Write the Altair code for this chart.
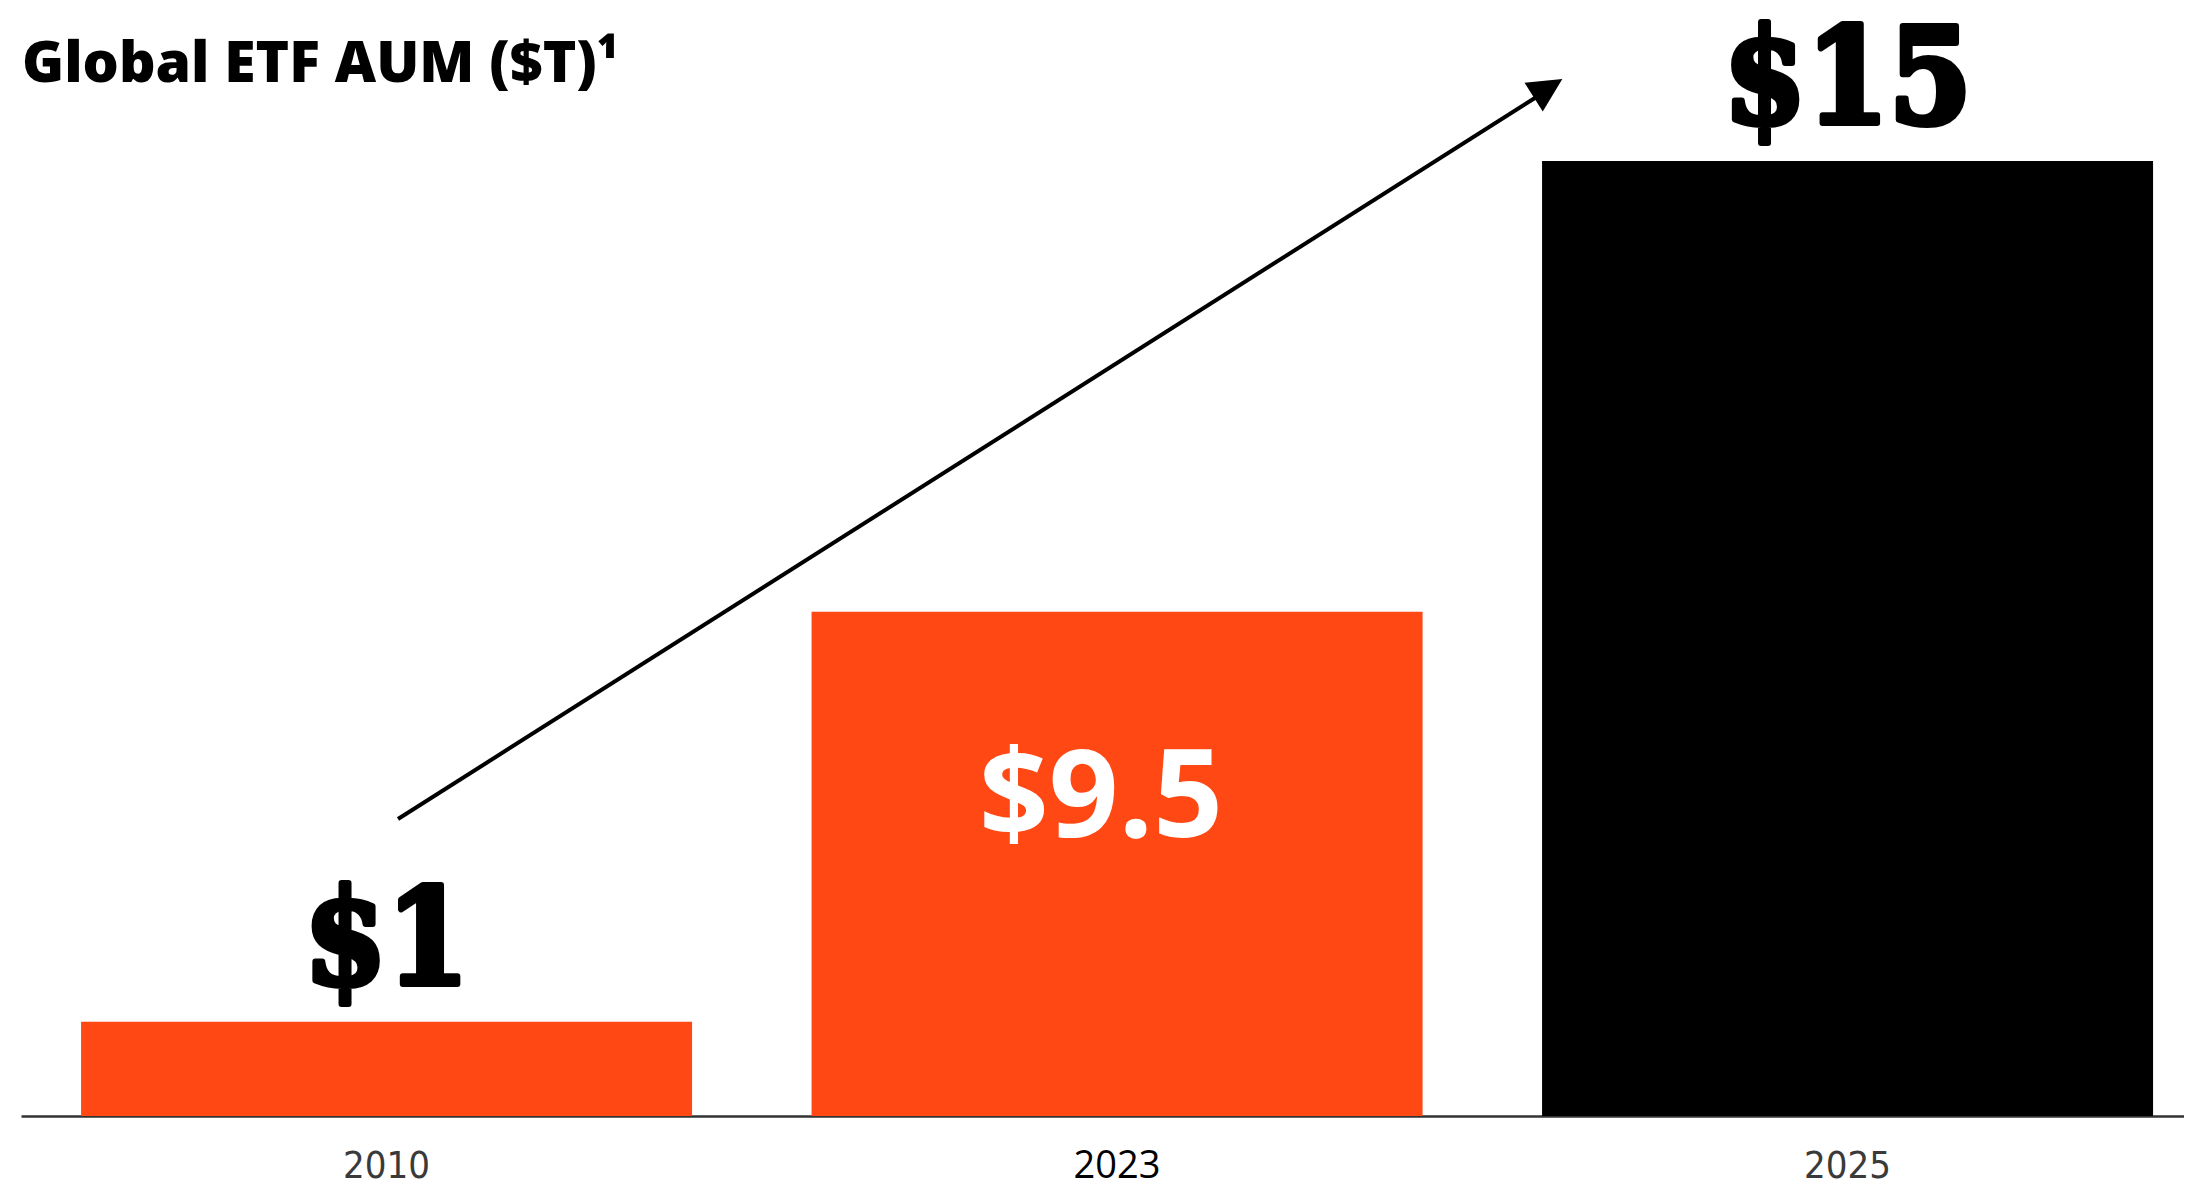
import altair as alt
import pandas as pd

# ---- data ----
years = ["2010", "2023", "2025"]
aum_labels = ["$1", "$9.5", "$15"]
aum_values = [1, 9.5, 15]              # $T, as labelled
bar_heights = [1.48, 7.92, 15]         # drawn bar heights (chart is not to scale)
label_inside = [False, True, False]

title_text = "Global ETF AUM ($T)\u00b9"

ORANGE = "#FF4814"
BLACK = "#000000"

df = pd.DataFrame({
    "year": years,
    "label": aum_labels,
    "value": aum_values,
    "height": bar_heights,
    "inside": label_inside,
})

W, H = 2163, 955

x = alt.X(
    "year:N",
    sort=years,
    scale=alt.Scale(paddingInner=0.1636, paddingOuter=0.0623, align=0.66),
    axis=alt.Axis(
        title=None,
        ticks=False,
        tickSize=0,
        domainColor="#333333",
        domainWidth=2.5,
        labelAngle=0,
        labelFontSize=38,
        labelPadding=31,
        labelBaseline="top",
        labelFont={"condition": {"test": "datum.value === '2023'", "value": "Open Sans"},
                   "value": "DejaVu Sans Condensed"},
        labelColor={"condition": {"test": "datum.value === '2023'", "value": "#000000"},
                    "value": "#3a3a3a"},
        labelFontWeight={"condition": {"test": "datum.value === '2023'", "value": "normal"},
                         "value": 300},
    ),
)
y = alt.Y("height:Q", scale=alt.Scale(domain=[0, 15], nice=False, zero=True), axis=None)

base = alt.Chart(df)

bars = base.mark_bar(size=611).encode(
    x=x,
    y=y,
    color=alt.Color("year:N", scale=alt.Scale(domain=years, range=[ORANGE, ORANGE, BLACK]), legend=None),
)

outside = base.transform_filter("!datum.inside").mark_text(
    font="DejaVu Serif Condensed",
    fontWeight="bold",
    fontSize=132,
    baseline="alphabetic",
    dy=-38,
    color=BLACK,
    stroke=BLACK,
    strokeWidth=6,
    strokeJoin="round",
).encode(x=alt.X("year:N", sort=years), y="height:Q", text="label:N")

inside = base.transform_filter("datum.inside").mark_text(
    font="Open Sans",
    fontWeight="bold",
    fontSize=122,
    baseline="alphabetic",
    dy=225,
    dx=-16,
    color="#FFFFFF",
).encode(x=alt.X("year:N", sort=years), y="height:Q", text="label:N")

# growth arrow annotation (pixel positions within the plot area)
arrow_line = alt.Chart(pd.DataFrame({"a": [0]})).mark_rule(
    color=BLACK, strokeWidth=4
).encode(
    x=alt.value(377), y=alt.value(658), x2=alt.value(1517), y2=alt.value(-65)
)
arrow_head = alt.Chart(pd.DataFrame({"a": [0]})).mark_point(
    shape="M0,-1L1,1L-1,1Z", filled=True, color=BLACK, opacity=1, size=1156, angle=57.6
).encode(x=alt.value(1527), y=alt.value(-73))

title = alt.Chart(pd.DataFrame({"t": [title_text]})).mark_text(
    font="Open Sans",
    fontWeight=800,
    fontSize=57,
    align="left",
    baseline="alphabetic",
    color=BLACK,
).encode(x=alt.value(1), y=alt.value(-79), text="t:N")

chart = alt.layer(bars, outside, inside, arrow_line, arrow_head, title).properties(
    width=W,
    height=H,
    autosize=alt.AutoSizeParams(type="none"),
    padding={"left": 13, "top": 153, "right": 0, "bottom": 66},
).configure(background="#FFFFFF").configure_view(stroke=None)

chart.save("out.html", embed_options={"renderer": "svg", "actions": False})
